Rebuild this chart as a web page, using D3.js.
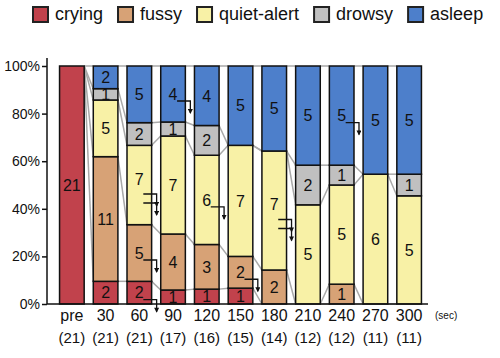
<html>
<head>
<style>
  body { margin: 0; background: #fff; }
  text { font-family: "Liberation Sans", Arial, sans-serif; fill: #111; }
  .axis path, .axis line { stroke: #111; stroke-width: 1.5px; }
  .axis text { font-size: 14px; }
</style>
</head>
<body>
<svg id="chart" width="500" height="358"></svg>
<script src="https://d3js.org/d3.v7.min.js"></script>
<script>
// ---- data ----
const times = ["pre", "30", "60", "90", "120", "150", "180", "210", "240", "270", "300"]
const totals = [21, 21, 21, 17, 16, 15, 14, 12, 12, 11, 11]
const states = ["crying", "fussy", "quiet-alert", "drowsy", "asleep"]
const crying = [21, 2, 2, 1, 1, 1, 0, 0, 0, 0, 0]
const fussy = [0, 11, 5, 4, 3, 2, 2, 0, 1, 0, 0]
const quietAlert = [0, 5, 7, 7, 6, 7, 7, 5, 5, 6, 5]
const drowsy = [0, 1, 2, 1, 2, 0, 0, 2, 1, 0, 1]
const asleep = [0, 2, 5, 4, 4, 5, 5, 5, 5, 5, 5]
const yTicks = [0, 0.2, 0.4, 0.6, 0.8, 1]
// infants who left the study before the next time point
const dropouts = [
  { time: "60", state: "crying", n: 1 },
  { time: "60", state: "fussy", n: 1 },
  { time: "60", state: "quiet-alert", n: 2 },
  { time: "90", state: "asleep", n: 1 },
  { time: "120", state: "quiet-alert", n: 1 },
  { time: "150", state: "fussy", n: 1 },
  { time: "180", state: "quiet-alert", n: 2 },
  { time: "240", state: "asleep", n: 1 }
]

const colors = ["#c1424c", "#d7a276", "#f8f1a6", "#c0c0c0", "#4d7fcb"]
const seriesVals = [crying, fussy, quietAlert, drowsy, asleep]

let svg = d3.select("#chart")

// build table of rows for d3.stack
let rows = times.map((t, i) => {
  let r = { time: t, total: totals[i] }
  states.forEach((s, k) => r[s] = seriesVals[k][i] / totals[i])
  return r
})
let stacked = d3.stack().keys(states)(rows)

let xScale = d3.scaleBand()
  .domain(times)
  .range([55, 426])
  .paddingInner(0.27)
  .paddingOuter(0.135)
let bw = xScale.bandwidth()

let yScale = d3.scaleLinear()
  .domain([0, 1])
  .range([304, 66])

let colorScale = d3.scaleOrdinal().domain(states).range(colors)

// legend
let lx = 33
states.forEach((s, k) => {
  svg.append("rect")
    .attr("x", lx).attr("y", 7)
    .attr("width", 15).attr("height", 15)
    .attr("fill", colorScale(s))
    .attr("stroke", "#222").attr("stroke-width", 2)
  let t = svg.append("text")
    .attr("x", lx + 22).attr("y", 20)
    .style("font-size", "18px")
    .text(s)
  lx = lx + 22 + t.node().getComputedTextLength() + 15
})

// gray connectors between neighbouring bars
let conn = svg.append("g")
stacked.forEach(layer => {
  for (let i = 0; i < times.length - 1; i++) {
    conn.append("line")
      .attr("x1", xScale(times[i]) + bw)
      .attr("y1", yScale(layer[i][1]))
      .attr("x2", xScale(times[i + 1]))
      .attr("y2", yScale(layer[i + 1][1]))
      .attr("stroke", "#a9a9a9")
      .attr("stroke-width", 1.5)
  }
})

// bars
let bars = svg.append("g")
stacked.forEach((layer, k) => {
  bars.selectAll(null)
    .data(layer.filter(d => d[1] - d[0] > 0))
    .enter()
    .append("rect")
    .attr("x", d => xScale(d.data.time))
    .attr("y", d => yScale(d[1]))
    .attr("width", bw)
    .attr("height", d => yScale(d[0]) - yScale(d[1]))
    .attr("fill", colors[k])
    .attr("stroke", "#111")
    .attr("stroke-width", 1.5)
})

// arrow marker (points along the path direction)
svg.append("defs").append("marker")
  .attr("id", "head")
  .attr("viewBox", "0 0 10 10")
  .attr("refX", 8).attr("refY", 5)
  .attr("markerUnits", "userSpaceOnUse")
  .attr("markerWidth", 6).attr("markerHeight", 5)
  .attr("orient", "auto")
  .append("path")
  .attr("d", "M0,0 L10,5 L0,10 Z")
  .attr("fill", "#111")

// counts inside segments + dropout arrows
let labels = svg.append("g")
stacked.forEach((layer, k) => {
  layer.forEach((d, i) => {
    let n = seriesVals[k][i]
    if (n == 0) return
    let cx = xScale(d.data.time) + bw / 2
    let cy = yScale((d[0] + d[1]) / 2)
    let drop = dropouts.find(o => o.time == d.data.time && o.state == states[k])
    let ly = cy
    if (drop && drop.n > 1) ly = cy - 6
    labels.append("text")
      .attr("x", cx).attr("y", ly)
      .attr("dy", "0.36em")
      .attr("text-anchor", "middle")
      .style("font-size", "16px")
      .text(n)
    if (drop) {
      for (let a = 0; a < drop.n; a++) {
        let ay = drop.n > 1 ? cy + 9 + a * 9 : cy + 7
        labels.append("path")
          .attr("d", "M" + (cx + 4) + "," + ay + "H" + (xScale(d.data.time) + bw + 5) + "v12")
          .attr("fill", "none")
          .attr("stroke", "#111")
          .attr("stroke-width", 1.3)
          .attr("marker-end", "url(#head)")
      }
    }
  })
})

// y axis
svg.append("g")
  .attr("class", "axis")
  .attr("transform", "translate(47,0)")
  .call(d3.axisLeft(yScale).tickValues(yTicks).tickFormat(d3.format(".0%")).tickSize(5).tickSizeOuter(0))
  .call(g => g.select(".domain").attr("d", "M0,58V304"))
  .selectAll("text").attr("x", -7)

// x axis baseline
svg.append("line")
  .attr("x1", 47).attr("x2", 428)
  .attr("y1", yScale(0)).attr("y2", yScale(0))
  .attr("stroke", "#111").attr("stroke-width", 1.5)

// x labels
let xl = svg.append("g")
times.forEach((t, i) => {
  let cx = xScale(t) + bw / 2
  xl.append("text")
    .attr("x", cx).attr("y", 321)
    .attr("text-anchor", "middle")
    .style("font-size", "16px")
    .text(t)
  xl.append("text")
    .attr("x", cx).attr("y", 343)
    .attr("text-anchor", "middle")
    .style("font-size", "15px")
    .text("(" + totals[i] + ")")
})
xl.append("text")
  .attr("x", 435).attr("y", 319)
  .style("font-size", "10px")
  .text("(sec)")
</script>
</body>
</html>
